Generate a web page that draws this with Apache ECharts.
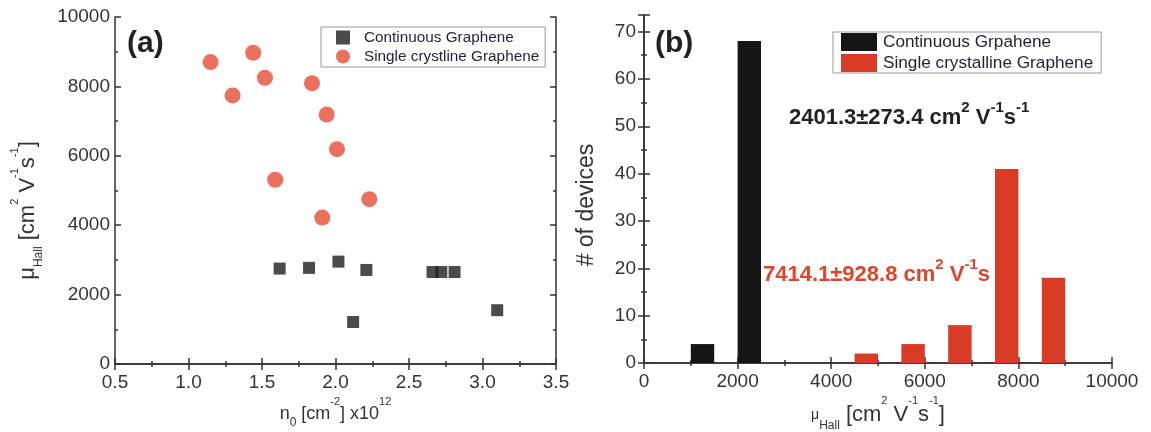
<!DOCTYPE html>
<html>
<head>
<meta charset="utf-8">
<script src="https://cdn.jsdelivr.net/npm/echarts@6/dist/echarts.min.js"></script>
<style>
  html, body { margin: 0; padding: 0; background: #fff; }
  #main { width: 1151px; height: 432px; }
</style>
</head>
<body>
<div id="main"></div>
<script>
// (a) Hall mobility vs carrier density
var contDensity = [1.62, 1.82, 2.02, 2.12, 2.21, 2.66, 2.72, 2.81, 3.1];
var contMobility = [2750, 2770, 2950, 1210, 2710, 2650, 2650, 2650, 1550];
var crysDensity = [1.15, 1.30, 1.44, 1.52, 1.59, 1.84, 1.91, 1.94, 2.01, 2.23];
var crysMobility = [8700, 7740, 8970, 8250, 5310, 8090, 4220, 7190, 6190, 4750];

// (b) histogram bins: start, end, count
var contBinStart = [1000, 2000];
var contBinEnd = [1500, 2500];
var contCount = [4, 68];
var crysBinStart = [4500, 5500, 6500, 7500, 8500];
var crysBinEnd = [5000, 6000, 7000, 8000, 9000];
var crysCount = [2, 4, 8, 41, 18];

var RED = '#e64e36';
var BAR_RED = '#d83c24';
var TXT = '#333';
var FONT = 'Liberation Sans, Arial, sans-serif';

function zip(a, b) {
  return a.map(function (v, i) { return [v, b[i]]; });
}
function bins(s, e, c) {
  return s.map(function (v, i) { return [v, e[i], c[i]]; });
}

function renderBar(params, api) {
  var p0 = api.coord([api.value(0), 0]);
  var p1 = api.coord([api.value(1), api.value(2)]);
  return {
    type: 'rect',
    shape: { x: p0[0], y: p1[1], width: p1[0] - p0[0], height: p0[1] - p1[1] },
    style: api.style()
  };
}

var chart = echarts.init(document.getElementById('main'));

var lineStyle = { color: '#333', width: 1.5 };
var labelStyle = { color: TXT, fontSize: 19, fontFamily: FONT };
var richName = {
  sub: { fontSize: 12, verticalAlign: 'bottom', padding: [0, 0, -6, 0], color: TXT, fontFamily: FONT },
  sup: { fontSize: 11, verticalAlign: 'top', padding: [-8, 0, 0, 0], color: TXT, fontFamily: FONT }
};
function plain(v) { return String(v); }

// frame axes on top / right, ticks only
function mirror(gridIndex, min, max, interval, pos) {
  return {
    type: 'value', gridIndex: gridIndex, position: pos,
    min: min, max: max, interval: interval,
    axisLine: { show: true, lineStyle: lineStyle },
    axisTick: { show: true, inside: true, length: 6, lineStyle: lineStyle },
    minorTick: { show: true, splitNumber: 2, length: 3, lineStyle: lineStyle },
    axisLabel: { show: false },
    splitLine: { show: false }
  };
}

var option = {
  backgroundColor: '#fff',
  animation: false,
  textStyle: { fontFamily: FONT },
  grid: [
    { left: 115, right: 595, top: 17, bottom: 68, outerBoundsMode: 'none' },
    { left: 644, right: 39, top: 15, bottom: 69, outerBoundsMode: 'none' }
  ],
  legend: [
    {
      data: [
        { name: 'Continuous Graphene', icon: 'rect' },
        { name: 'Single crystline Graphene', icon: 'circle' }
      ],
      left: 321, top: 27, orient: 'vertical',
      itemWidth: 14, itemHeight: 14, itemGap: 4,
      padding: [3, 6, 3, 15],
      borderColor: '#999', borderWidth: 1,
      textStyle: { color: '#1f1f3a', fontSize: 15.3, fontFamily: FONT, padding: [0, 0, 0, 9] }
    },
    {
      data: [
        { name: 'Continuous Grpahene', icon: 'rect' },
        { name: 'Single crystalline Graphene', icon: 'rect' }
      ],
      left: 833, top: 32, orient: 'vertical',
      itemWidth: 36, itemHeight: 18, itemGap: 3,
      padding: [1, 8, 1, 8],
      borderColor: '#999', borderWidth: 1,
      textStyle: { color: '#1f1f3a', fontSize: 17.2, fontFamily: FONT, padding: [0, 0, 0, 1] }
    }
  ],
  xAxis: [
    {
      type: 'value', gridIndex: 0, position: 'bottom',
      min: 0.5, max: 3.5, interval: 0.5,
      axisLine: { show: true, onZero: false, lineStyle: lineStyle },
      axisTick: { inside: true, length: 6, lineStyle: lineStyle },
      minorTick: { show: true, splitNumber: 2, length: 3, lineStyle: lineStyle },
      splitLine: { show: false },
      axisLabel: Object.assign({ margin: 9, formatter: function (v) { return v.toFixed(1); } }, labelStyle),
      name: 'n{sub|0} [cm{sup|-2}] x10{sup|12}',
      nameLocation: 'middle', nameGap: 33,
      nameTextStyle: { color: TXT, fontSize: 18, fontFamily: FONT, rich: richName }
    },
    mirror(0, 0.5, 3.5, 0.5, 'top'),
    {
      type: 'value', gridIndex: 1, position: 'bottom',
      min: 0, max: 10000, interval: 2000,
      axisLine: { show: true, onZero: false, lineStyle: lineStyle },
      axisTick: { inside: true, length: 6, lineStyle: lineStyle },
      minorTick: { show: true, splitNumber: 2, length: 3, lineStyle: lineStyle },
      splitLine: { show: false },
      axisLabel: Object.assign({ margin: 9, formatter: plain }, labelStyle),
      name: '{mu|μ}{sub|Hall} [cm{sup|2} V{sup|-1}s{sup|-1}]',
      nameLocation: 'middle', nameGap: 38,
      nameTextStyle: {
        color: TXT, fontSize: 22, fontFamily: FONT,
        rich: Object.assign({ mu: { fontSize: 14, color: TXT, fontFamily: FONT } }, richName)
      }
    },
    mirror(1, 0, 10000, 2000, 'top')
  ],
  yAxis: [
    {
      type: 'value', gridIndex: 0, position: 'left',
      min: 0, max: 10000, interval: 2000,
      axisLine: { show: true, onZero: false, lineStyle: lineStyle },
      axisTick: { inside: true, length: 6, lineStyle: lineStyle },
      minorTick: { show: true, splitNumber: 2, length: 3, lineStyle: lineStyle },
      splitLine: { show: false },
      axisLabel: Object.assign({ margin: 5, formatter: plain }, labelStyle),
      name: 'μ{sub|Hall} [cm{sup|2} V{sup|-1}s{sup|-1}]',
      nameLocation: 'middle', nameGap: 76, nameRotate: 90,
      nameTextStyle: { color: TXT, fontSize: 22, fontFamily: FONT, rich: richName, padding: [0, 40, 0, 0] }
    },
    mirror(0, 0, 10000, 2000, 'right'),
    {
      type: 'value', gridIndex: 1, position: 'left',
      min: 0, max: 73.5, interval: 10,
      axisLine: { show: true, onZero: false, lineStyle: lineStyle },
      axisTick: { inside: true, length: 6, lineStyle: lineStyle },
      minorTick: { show: true, splitNumber: 2, length: 3, lineStyle: lineStyle },
      splitLine: { show: false },
      axisLabel: Object.assign({ margin: 8, showMaxLabel: false }, labelStyle),
      name: '# of devices',
      nameLocation: 'middle', nameGap: 46, nameRotate: 90,
      nameTextStyle: { color: TXT, fontSize: 23, fontFamily: FONT, padding: [0, 32, 0, 0] }
    },
    mirror(1, 0, 73.5, 10, 'right')
  ],
  series: [
    {
      name: 'Continuous Graphene', type: 'scatter',
      xAxisIndex: 0, yAxisIndex: 0,
      symbol: 'rect', symbolSize: 12,
      itemStyle: { color: '#1e1e1e' },
      data: zip(contDensity, contMobility)
    },
    {
      name: 'Single crystline Graphene', type: 'scatter',
      xAxisIndex: 0, yAxisIndex: 0,
      symbol: 'circle', symbolSize: 16,
      itemStyle: { color: RED },
      data: zip(crysDensity, crysMobility)
    },
    {
      name: 'Continuous Grpahene', type: 'custom',
      xAxisIndex: 2, yAxisIndex: 2,
      renderItem: renderBar,
      encode: { x: [0, 1], y: 2 },
      itemStyle: { color: '#161616' },
      data: bins(contBinStart, contBinEnd, contCount)
    },
    {
      name: 'Single crystalline Graphene', type: 'custom',
      xAxisIndex: 2, yAxisIndex: 2,
      renderItem: renderBar,
      encode: { x: [0, 1], y: 2 },
      itemStyle: { color: BAR_RED },
      data: bins(crysBinStart, crysBinEnd, crysCount)
    }
  ],
  graphic: [
    {
      type: 'text', left: 127, top: 29,
      style: { text: '(a)', fill: '#222', font: 'bold 30px ' + FONT }
    },
    {
      type: 'text', left: 655, top: 29,
      style: { text: '(b)', fill: '#222', font: 'bold 30px ' + FONT }
    },
    {
      type: 'text', left: 789, top: 100,
      style: {
        text: '2401.3±273.4 cm{sp|2} V{sp|-1}s{sp|-1}',
        fill: '#222', fontSize: 22, fontWeight: 'bold', fontFamily: FONT,
        rich: { sp: { fontSize: 15, fontWeight: 'bold', fontFamily: FONT, verticalAlign: 'top', padding: [-7, 0, 0, 0], fill: '#222' } }
      }
    },
    {
      type: 'text', left: 763, top: 257,
      style: {
        text: '7414.1±928.8 cm{sp|2} V{sp|-1}s',
        fill: '#e0452c', fontSize: 22, fontWeight: 'bold', fontFamily: FONT,
        rich: { sp: { fontSize: 15, fontWeight: 'bold', fontFamily: FONT, verticalAlign: 'top', padding: [-7, 0, 0, 0], fill: '#e0452c' } }
      }
    }
  ]
};

chart.setOption(option);
</script>
</body>
</html>
